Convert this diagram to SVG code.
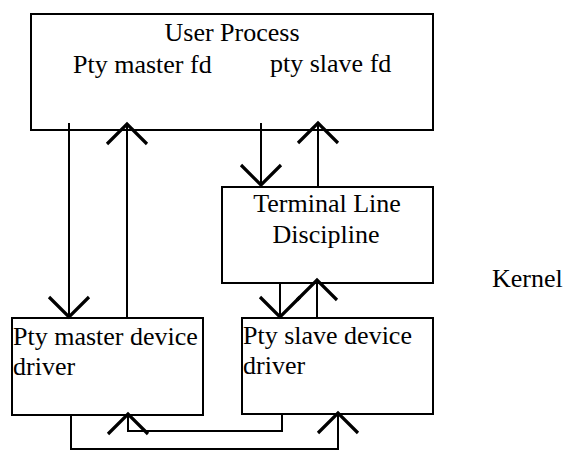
<svg xmlns="http://www.w3.org/2000/svg" width="563" height="451" viewBox="0 0 563 451">
  <style>
    .box { fill: #ffffff; stroke: #000000; stroke-width: 2; }
    .lbl { font-family: "Liberation Serif", "Times New Roman", serif; font-size: 26px; fill: #000000; }
    .wire { fill: none; stroke: #000000; stroke-width: 2; }
  </style>
  <defs>
    <!-- open V arrowhead, drawn in user units -->
    <marker id="vhead" markerUnits="userSpaceOnUse" viewBox="-24 -24 28 48" refX="0" refY="0" markerWidth="28" markerHeight="48" orient="auto" overflow="visible">
      <path d="M-20,-20 L0,0 L-20,20" fill="none" stroke="#000000" stroke-width="3.2" stroke-linejoin="miter"/>
    </marker>
  </defs>
  <rect width="563" height="451" fill="#ffffff"/>

  <g id="user-process">
    <rect class="box" x="31" y="14" width="402" height="116"/>
    <text class="lbl" x="232" y="41" text-anchor="middle">User Process</text>
    <text class="lbl" x="73" y="73">Pty master fd</text>
    <text class="lbl" x="270" y="72">pty slave fd</text>
  </g>

  <g id="terminal-line-discipline">
    <rect class="box" x="222" y="187" width="211" height="96"/>
    <text class="lbl" x="327" y="212" text-anchor="middle">Terminal Line</text>
    <text class="lbl" x="326" y="243" text-anchor="middle">Discipline</text>
  </g>

  <g id="pty-master-driver">
    <rect class="box" x="12" y="318" width="191" height="97"/>
    <text class="lbl" x="13" y="345">Pty master device</text>
    <text class="lbl" x="13" y="375">driver</text>
  </g>

  <g id="pty-slave-driver">
    <rect class="box" x="242" y="318" width="191" height="96"/>
    <text class="lbl" x="243" y="344">Pty slave device</text>
    <text class="lbl" x="243" y="374">driver</text>
  </g>

  <g id="kernel-label">
    <text class="lbl" x="492" y="287">Kernel</text>
  </g>

  <g id="connectors">
    <path class="wire" d="M69,123 V317" marker-end="url(#vhead)"/>
    <path class="wire" d="M127,318 V124" marker-end="url(#vhead)"/>
    <path class="wire" d="M261,123 V185" marker-end="url(#vhead)"/>
    <path class="wire" d="M318,187 V123" marker-end="url(#vhead)"/>
    <path class="wire" d="M280,283 V317" marker-end="url(#vhead)"/>
    <path class="wire" d="M317,318 V280" marker-end="url(#vhead)"/>
    <path class="wire" d="M282,414 V431 H128 V414" marker-end="url(#vhead)"/>
    <path class="wire" d="M71,415 V449 H338 V413" marker-end="url(#vhead)"/>
  </g>
</svg>
